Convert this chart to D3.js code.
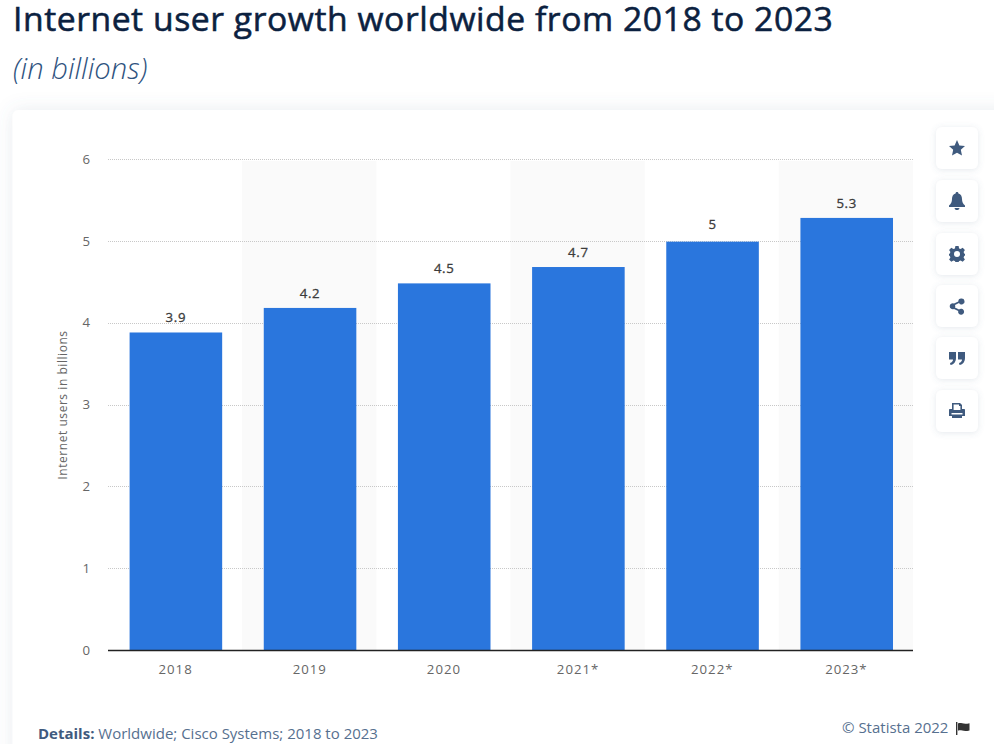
<!DOCTYPE html>
<html><head><meta charset="utf-8">
<script src="https://cdnjs.cloudflare.com/ajax/libs/d3/7.8.5/d3.min.js"></script>
<style>
html,body{margin:0;padding:0;background:#fff;overflow:hidden}
svg{display:block}
text{font-family:"Open Sans",sans-serif}
</style></head><body>
<svg id="c" width="994" height="744"></svg>
<script>
const categories=["2018","2019","2020","2021*","2022*","2023*"];
const values=[3.88,4.18,4.48,4.68,4.99,5.28];
const valueLabels=["3.9","4.2","4.5","4.7","5","5.3"];
const yTicks=[0,1,2,3,4,5,6];
const titleText="Internet user growth worldwide from 2018 to 2023";
const subtitleText="(in billions)";
const yAxisTitle="Internet users in billions";
const sourceText="Worldwide; Cisco Systems; 2018 to 2023";

const svg=d3.select("#c");
const defs=svg.append("defs");
const f=defs.append("filter").attr("id","sh").attr("x","-10%").attr("y","-10%").attr("width","120%").attr("height","120%");
f.append("feDropShadow").attr("dx",0).attr("dy",0).attr("stdDeviation",9).attr("flood-color","#5a6f8f").attr("flood-opacity",0.14);
const f2=defs.append("filter").attr("id","sh2").attr("x","-30%").attr("y","-30%").attr("width","160%").attr("height","160%");
f2.append("feDropShadow").attr("dx",0).attr("dy",1).attr("stdDeviation",3).attr("flood-color","#5a6f8f").attr("flood-opacity",0.16);

svg.append("rect").attr("x",12.5).attr("y",110).attr("width",1010).attr("height",680).attr("rx",6).attr("fill","#fff").attr("filter","url(#sh)");

svg.append("text").attr("x",13).attr("y",31).attr("font-size",33.7).attr("fill","#0b2140")
 .attr("stroke","#0b2140").attr("stroke-width",0.55).style("letter-spacing","0.54px").text(titleText);
svg.append("text").attr("x",13).attr("y",79).attr("font-size",29.2).attr("font-style","italic").attr("font-weight",300).attr("fill","#2f5380").text(subtitleText);

const x=d3.scaleBand().domain(categories).range([108,913]).paddingInner(0).paddingOuter(0);
const y=d3.scaleLinear().domain([0,6]).range([650,159]);
const inner=0.69, barShift=0.8;

// alternating bands
svg.append("g").selectAll("rect").data(categories.filter((d,i)=>i%2===1)).join("rect")
 .attr("x",d=>x(d)).attr("width",x.bandwidth()).attr("y",y(6)+2).attr("height",y(0)-y(6)-2).attr("fill","#fafafa");

// grid
svg.append("g").selectAll("line").data(yTicks.slice(1)).join("line")
 .attr("x1",108).attr("x2",913).attr("y1",d=>Math.round(y(d))+.5).attr("y2",d=>Math.round(y(d))+.5)
 .attr("stroke","#c8c8c8").attr("stroke-dasharray","1 1");

// bars
svg.append("g").selectAll("rect").data(categories).join("rect")
 .attr("x",d=>x(d)+x.bandwidth()*(1-inner)/2+barShift).attr("width",x.bandwidth()*inner)
 .attr("y",(d,i)=>y(values[i])).attr("height",(d,i)=>y(0)-y(values[i])).attr("fill","#2a76dd");

// value labels (the whole-number label sits slightly higher in the source chart)
svg.append("g").selectAll("text").data(categories).join("text")
 .attr("x",d=>x(d)+x.bandwidth()/2+barShift).attr("y",(d,i)=>y(values[i])-(valueLabels[i].length===1?13:10))
 .attr("text-anchor","middle").attr("font-size",13.2).attr("fill","#3c3c3c")
 .attr("stroke","#3c3c3c").attr("stroke-width",0.3)
 .style("letter-spacing","0.7px").text((d,i)=>valueLabels[i]);

// axes
const ax=svg.append("g").attr("transform","translate(0,650)").call(d3.axisBottom(x).tickSize(0).tickPadding(15));
ax.select(".domain").attr("stroke","#222").attr("stroke-width",1.3).attr("d","M108,0.5H913");
ax.selectAll("text").attr("font-size",13.2).attr("fill","#666").attr("dx",0.5).style("font-family","'Open Sans',sans-serif").style("letter-spacing","1px");

const ay=svg.append("g").attr("transform","translate(90,0)").call(d3.axisLeft(y).tickValues(yTicks).tickFormat(d3.format("d")).tickSize(0).tickPadding(0));
ay.select(".domain").remove();
ay.selectAll("text").attr("font-size",13.2).attr("fill","#666").style("font-family","'Open Sans',sans-serif");

svg.append("text").attr("transform","translate(67,405) rotate(-90)").attr("text-anchor","middle")
 .attr("font-size",12).attr("fill","#666").style("letter-spacing","0.55px").text(yAxisTitle);

// footer
const det=svg.append("text").attr("x",38).attr("y",739).attr("font-size",15).attr("fill","#56708f");
det.append("tspan").attr("font-weight",700).attr("fill","#3f5a7e").text("Details: ");
det.append("tspan").text(sourceText);
svg.append("text").attr("x",842).attr("y",733).attr("font-size",15).attr("fill","#56708f").text("© Statista 2022");
svg.append("path").attr("transform","translate(956,722)").attr("fill","#333")
 .attr("d","M0,0H1.4V13H0ZM2,1.5C5,0 7,3 13.5,1.2V8.5C7,10.3 5,7.3 2,8.8Z");

// tool buttons
const icons=[
 {y:148,d:"M0,-8L2.4,-2.6L8,-2L3.8,1.8L5,7.6L0,4.7L-5,7.6L-3.8,1.8L-8,-2L-2.4,-2.6Z"},
 {y:201,d:"M0,-9C1,-9 1.4,-8.4 1.4,-7.6C4,-7 5,-4.6 5,-2C5,1 6,3 8,4.6V6H-8V4.6C-6,3 -5,1 -5,-2C-5,-4.6 -4,-7 -1.4,-7.6C-1.4,-8.4 -1,-9 0,-9ZM-2.4,7H2.4C2.4,8.4 1.4,9 0,9C-1.4,9 -2.4,8.4 -2.4,7Z"},
 {y:254,d:"M-1.6,-8H1.6L2.1,-5.6L3.6,-5L5.7,-6.2L7.9,-4L6.6,-2L7.2,-.5L8,0V1.6L7.2,2L6.6,3.4L7.9,5.5L5.7,7.7L3.6,6.4L2.1,7L1.6,8H-1.6L-2.1,7L-3.6,6.4L-5.7,7.7L-7.9,5.5L-6.6,3.4L-7.2,2L-8,1.6V0L-7.2,-.5L-6.6,-2L-7.9,-4L-5.7,-6.2L-3.6,-5L-2.1,-5.6ZM0,-2.9A3,3 0 1 0 0.01,3.1A3,3 0 1 0 0,-2.9Z",rule:"evenodd"},
 {y:306,d:"M4.5,-7.5A3,3 0 1 1 2,-3L-2,-1A3,3 0 0 1 -2,1.6L2,3.6A3,3 0 1 1 1.2,5L-3,3A3,3 0 1 1 -3,-2.4L1.3,-4.5A3,3 0 0 1 4.5,-7.5Z"},
 {y:358,d:"M-8,-6H-1V0C-1,3.5 -3,6.5 -6.5,7L-7,5C-5,4.5 -4,3.2 -4,1.6H-8ZM1,-6H8V0C8,3.5 6,6.5 2.5,7L2,5C4,4.5 5,3.2 5,1.6H1Z"},
 {y:411,d:"M-5,-8H3L5,-6V-2H7C7.6,-2 8,-1.6 8,-1V5H5V7H-5V5H-8V-1C-8,-1.6 -7.6,-2 -7,-2H-5ZM-3.4,-6.4V-1H3.4V-5H2V-6.4ZM-5.5,2V3.4H5.5V2Z",rule:"evenodd"}
];
const ig=svg.append("g");
const btn=ig.selectAll("g").data(icons).join("g").attr("transform",d=>`translate(957,${d.y})`);
btn.append("rect").attr("x",-21).attr("y",-21).attr("width",42).attr("height",42).attr("rx",6).attr("fill","#fff").attr("filter","url(#sh2)");
btn.append("path").attr("d",d=>d.d).attr("fill","#3f5a7e").attr("fill-rule",d=>d.rule||"nonzero");
</script>
</body></html>
